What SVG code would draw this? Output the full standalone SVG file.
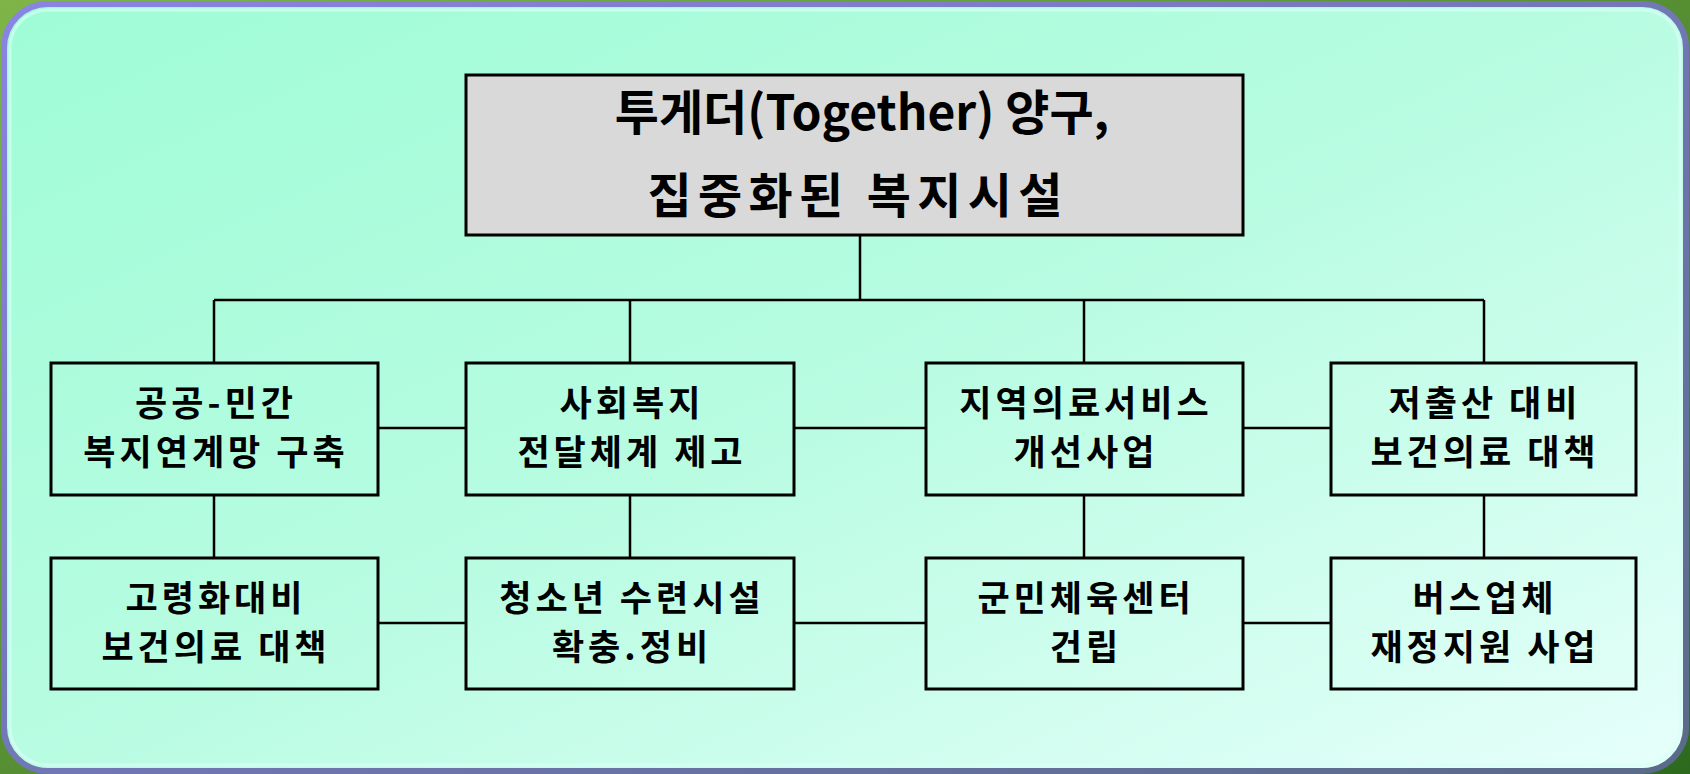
<svg xmlns="http://www.w3.org/2000/svg" width="1690" height="774" viewBox="0 0 1690 774">
<defs>
<linearGradient id="outerBg" x1="0" y1="0" x2="1" y2="1">
<stop offset="0" stop-color="#7fb548"/>
<stop offset="1" stop-color="#2e6a1e"/>
</linearGradient>
<linearGradient id="panel" x1="0" y1="0" x2="1" y2="1">
<stop offset="0" stop-color="#9ffcd6"/>
<stop offset="0.5" stop-color="#b8fce2"/>
<stop offset="1" stop-color="#e6fffa"/>
</linearGradient>
<linearGradient id="rim" x1="0" y1="0" x2="1" y2="1">
<stop offset="0" stop-color="#8a84e4"/>
<stop offset="1" stop-color="#5a6a88"/>
</linearGradient>
<style>
.box{fill:none;stroke:#000;stroke-width:3}
.title{fill:#d9d9d9;stroke:#000;stroke-width:3}
.conn line{stroke:#000;stroke-width:2.5;fill:none}
.t{font-family:"Noto Sans CJK KR","Noto Sans",sans-serif;font-weight:bold;font-size:35px;letter-spacing:4px;text-anchor:middle;fill:#000}
.tt{font-family:"Noto Sans CJK KR","Noto Sans",sans-serif;font-weight:bold;font-size:48px;text-anchor:middle;fill:#000}
</style>
</defs>
<rect x="0" y="0" width="1690" height="774" fill="url(#outerBg)"/>
<rect x="4" y="4" width="1682" height="767" rx="44" ry="44" fill="url(#panel)" stroke="url(#rim)" stroke-width="6"/>
<rect x="10" y="10" width="1670" height="755" rx="38" ry="38" fill="none" stroke="#d8fff6" stroke-width="3" opacity="0.7"/>

<g class="conn" id="connectors">
<line x1="860" y1="235" x2="860" y2="300"/>
<line x1="214" y1="300" x2="1484" y2="300"/>
<line x1="214" y1="300" x2="214" y2="363"/>
<line x1="630" y1="300" x2="630" y2="363"/>
<line x1="1084" y1="300" x2="1084" y2="363"/>
<line x1="1484" y1="300" x2="1484" y2="363"/>
<line x1="214" y1="495" x2="214" y2="558"/>
<line x1="630" y1="495" x2="630" y2="558"/>
<line x1="1084" y1="495" x2="1084" y2="558"/>
<line x1="1484" y1="495" x2="1484" y2="558"/>
<line x1="378" y1="428" x2="466" y2="428"/>
<line x1="794" y1="428" x2="926" y2="428"/>
<line x1="1243" y1="428" x2="1331" y2="428"/>
<line x1="378" y1="623" x2="466" y2="623"/>
<line x1="794" y1="623" x2="926" y2="623"/>
<line x1="1243" y1="623" x2="1331" y2="623"/>
</g>

<g id="root">
<rect class="title" x="466" y="75" width="777" height="160"/>
<text class="tt" x="862" y="130">투게더(Together) 양구,</text>
<text class="tt" x="855" y="213" textLength="415" lengthAdjust="spacing">집중화된 복지시설</text>
</g>

<g id="n1">
<rect class="box" x="51" y="363" width="327" height="132"/>
<text class="t" x="216" y="416">공공-민간</text>
<text class="t" x="216" y="465">복지연계망 구축</text>
</g>
<g id="n2">
<rect class="box" x="466" y="363" width="328" height="132"/>
<text class="t" x="632" y="416">사회복지</text>
<text class="t" x="632" y="465">전달체계 제고</text>
</g>
<g id="n3">
<rect class="box" x="926" y="363" width="317" height="132"/>
<text class="t" x="1086" y="416">지역의료서비스</text>
<text class="t" x="1086" y="465">개선사업</text>
</g>
<g id="n4">
<rect class="box" x="1331" y="363" width="305" height="132"/>
<text class="t" x="1485" y="416">저출산 대비</text>
<text class="t" x="1485" y="465">보건의료 대책</text>
</g>

<g id="n5">
<rect class="box" x="51" y="558" width="327" height="131"/>
<text class="t" x="216" y="611">고령화대비</text>
<text class="t" x="216" y="660">보건의료 대책</text>
</g>
<g id="n6">
<rect class="box" x="466" y="558" width="328" height="131"/>
<text class="t" x="632" y="611">청소년 수련시설</text>
<text class="t" x="632" y="660">확충.정비</text>
</g>
<g id="n7">
<rect class="box" x="926" y="558" width="317" height="131"/>
<text class="t" x="1086" y="611">군민체육센터</text>
<text class="t" x="1086" y="660">건립</text>
</g>
<g id="n8">
<rect class="box" x="1331" y="558" width="305" height="131"/>
<text class="t" x="1485" y="611">버스업체</text>
<text class="t" x="1485" y="660">재정지원 사업</text>
</g>
</svg>
